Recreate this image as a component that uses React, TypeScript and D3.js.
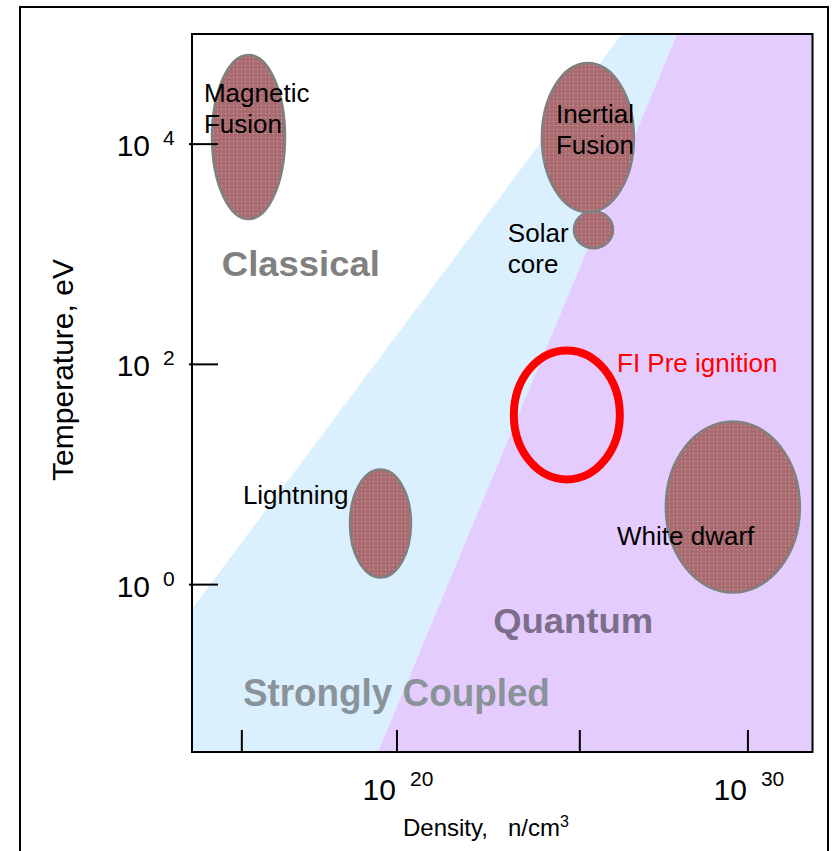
import React from "react";
import * as d3 from "d3";

const W = 835;
const H = 851;

// log10 axes extents (density n/cm^3, temperature eV)
const densityDomain = [14.16, 31.84];
const temperatureDomain = [-1.52, 5.0];

const yTickExps = [0, 2, 4];
const xTickExps = [20, 30];
const xMinorTickExps = [15.58, 25.21];

// regime boundaries (log10 density, log10 temperature)
const classicalBoundary = [
  [14.16, -0.22],
  [26.41, 5.0],
];
const quantumBoundary = [
  [19.46, -1.52],
  [27.98, 5.0],
];

const regionNames = ["Classical", "Strongly Coupled", "Quantum"];
const regionDensity = [15.01, 15.61, 22.74];
const regionTemp = [2.8, -1.1, -0.436];
const regionColors = ["#808080", "#8a9399", "#7b6f8b"];
const regionWidths = [158, 307, 160];

// plasma objects
const objectNames = [["Magnetic", "Fusion"], ["Inertial", "Fusion"], ["Solar", "core"], ["Lightning"], ["White dwarf"]];
const objectDensity = [15.77, 25.44, 25.6, 19.53, 29.57];
const objectTemp = [4.064, 4.059, 3.223, 0.555, 0.705];
const objectDensityHalf = [1.04, 1.31, 0.556, 0.869, 1.909];
const objectTempHalf = [0.745, 0.677, 0.168, 0.491, 0.777];
const labelDensity = [14.5, 24.53, 23.16, 15.61, 26.27];
const labelTemp = [4.382, 4.191, 3.109, 0.736, 0.364];

// FI pre ignition region
const fiName = "FI Pre ignition";
const fiDensity = 24.84;
const fiTemp = 1.541;
const fiDensityHalf = 1.51;
const fiTempHalf = 0.586;
const fiLabelDensity = 26.27;
const fiLabelTemp = 1.927;

const FONT = "'Liberation Sans', Arial, Helvetica, sans-serif";

export default function App() {
  const left = 192;
  const right = 812.5;
  const top = 34;
  const bottom = 752;

  const x = d3
    .scaleLog()
    .domain([10 ** densityDomain[0], 10 ** densityDomain[1]])
    .range([left, right]);
  const y = d3
    .scaleLog()
    .domain([10 ** temperatureDomain[0], 10 ** temperatureDomain[1]])
    .range([bottom, top]);
  const px = (d: number) => x(10 ** d);
  const py = (t: number) => y(10 ** t);

  const pt = (p: number[]) => `${px(p[0])},${py(p[1])}`;
  const bluePoly = [
    classicalBoundary[0],
    classicalBoundary[1],
    quantumBoundary[1],
    quantumBoundary[0],
    [densityDomain[0], temperatureDomain[0]],
  ]
    .map(pt)
    .join(" ");
  const purplePoly = [
    quantumBoundary[0],
    quantumBoundary[1],
    [densityDomain[1], temperatureDomain[1]],
    [densityDomain[1], temperatureDomain[0]],
  ]
    .map(pt)
    .join(" ");

  return (
    <svg width={W} height={H} style={{ display: "block", position: "absolute", left: 0, top: 0 }}>
      <defs>
        <pattern id="dots" width={4} height={4} patternUnits="userSpaceOnUse">
          <rect width={4} height={4} fill="#a96b70" />
          <rect x={1} y={1} width={1} height={1} fill="#d3abae" />
        </pattern>
        <clipPath id="plot">
          <rect x={left} y={top} width={right - left} height={bottom - top} />
        </clipPath>
      </defs>
      <rect x={0} y={0} width={W} height={H} fill="#fff" />
      <rect x={20} y={7} width={808} height={880} fill="none" stroke="#000" strokeWidth={2} />

      <g clipPath="url(#plot)">
        <rect x={left} y={top} width={right - left} height={bottom - top} fill="#fff" />
        <polygon points={bluePoly} fill="#daf0fe" />
        <polygon points={purplePoly} fill="#e4cdfe" />
      </g>

      {regionNames.map((n, i) => (
        <text
          key={n}
          x={px(regionDensity[i])}
          y={py(regionTemp[i])}
          fontFamily={FONT}
          fontWeight="bold"
          fontSize={i === 1 ? 38 : 35}
          fill={regionColors[i]}
          textLength={regionWidths[i]}
          lengthAdjust="spacingAndGlyphs"
        >
          {n}
        </text>
      ))}

      {objectNames.map((n, i) => (
        <ellipse
          key={"e" + i}
          cx={px(objectDensity[i])}
          cy={py(objectTemp[i])}
          rx={px(objectDensity[i] + objectDensityHalf[i]) - px(objectDensity[i])}
          ry={py(objectTemp[i]) - py(objectTemp[i] + objectTempHalf[i])}
          fill="url(#dots)"
          stroke="#808080"
          strokeWidth={2.5}
        />
      ))}

      <ellipse
        cx={px(fiDensity)}
        cy={py(fiTemp)}
        rx={px(fiDensity + fiDensityHalf) - px(fiDensity)}
        ry={py(fiTemp) - py(fiTemp + fiTempHalf)}
        fill="none"
        stroke="#ff0000"
        strokeWidth={8}
      />

      {objectNames.map((lines, i) => (
        <text key={"l" + i} fontFamily={FONT} fontSize={26} fill="#000">
          {lines.map((s, j) => (
            <tspan key={j} x={px(labelDensity[i])} y={py(labelTemp[i]) + j * 31}>
              {s}
            </tspan>
          ))}
        </text>
      ))}
      <text x={px(fiLabelDensity)} y={py(fiLabelTemp)} fontFamily={FONT} fontSize={26} fill="#ff0000">
        {fiName}
      </text>

      {/* plot frame */}
      <rect x={left} y={top} width={right - left} height={bottom - top} fill="none" stroke="#000" strokeWidth={2} />

      {/* y ticks */}
      {yTickExps.map((e) => (
        <g key={"yt" + e}>
          <line x1={189} x2={218} y1={py(e)} y2={py(e)} stroke="#000" strokeWidth={2} />
          <text x={150} y={py(e) + 12} textAnchor="end" fontFamily={FONT} fontSize={30} fill="#000">
            10
          </text>
          <text x={163} y={py(e) + 1} fontFamily={FONT} fontSize={21} fill="#000">
            {e}
          </text>
        </g>
      ))}

      {/* x ticks */}
      {[...xMinorTickExps, ...xTickExps].map((e) => (
        <line key={"xt" + e} x1={px(e)} x2={px(e)} y1={bottom} y2={bottom - 22} stroke="#000" strokeWidth={2} />
      ))}
      {xTickExps.map((e) => (
        <g key={"xl" + e}>
          <text x={px(e) - 1} y={800} textAnchor="end" fontFamily={FONT} fontSize={30} fill="#000">
            10
          </text>
          <text x={px(e) + 13} y={786} fontFamily={FONT} fontSize={21} fill="#000">
            {e}
          </text>
        </g>
      ))}

      {/* axis titles */}
      <text x={403} y={836} fontFamily={FONT} fontSize={24} fill="#000">
        Density,
        <tspan x={508}>n/cm</tspan>
        <tspan fontSize={16} dy={-9}>3</tspan>
      </text>
      <text
        transform={`translate(73, ${370}) rotate(-90)`}
        textAnchor="middle"
        fontFamily={FONT}
        fontSize={30}
        fill="#000"
      >
        Temperature, eV
      </text>
    </svg>
  );
}
